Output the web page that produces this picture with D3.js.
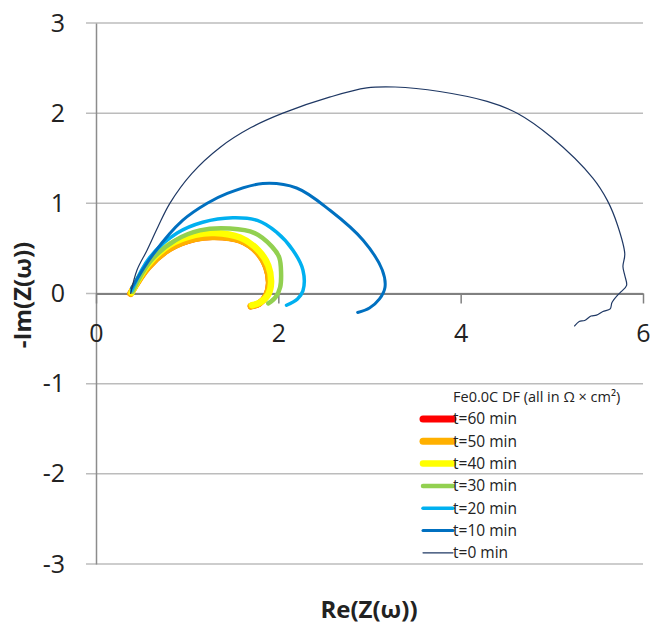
<!DOCTYPE html>
<html><head><meta charset="utf-8">
<script src="https://cdn.jsdelivr.net/npm/d3@7"></script>
<style>
body{margin:0;background:#fff}
svg{display:block}
text{font-family:"Open Sans",Lato,sans-serif;fill:#222}
</style>
</head><body>
<svg id="c" width="652" height="624"></svg>
<script>
// ---- data (Re, -Im) in Ω × cm² ----
const xTicks = [0, 2, 4, 6];
const yTicks = [-3, -2, -1, 0, 1, 2, 3];
const seriesLabels = ["t=60 min","t=50 min","t=40 min","t=30 min","t=20 min","t=10 min","t=0 min"];
const legendTitle = "Fe0.0C DF (all in Ω × cm²)";

const t60 = [[0.38,0.00],[0.57,0.29],[0.81,0.50],[1.09,0.61],[1.30,0.63],[1.58,0.59],[1.77,0.46],[1.87,0.29],[1.90,0.11],[1.87,-0.02],[1.79,-0.11],[1.70,-0.14]];
const t50 = [[0.38,0.00],[0.57,0.29],[0.81,0.50],[1.09,0.61],[1.30,0.63],[1.58,0.59],[1.77,0.46],[1.87,0.29],[1.90,0.11],[1.87,-0.02],[1.79,-0.11],[1.70,-0.14]];
const t40 = [[0.39,0.01],[0.57,0.32],[0.81,0.54],[1.09,0.65],[1.30,0.67],[1.58,0.62],[1.78,0.48],[1.89,0.31],[1.92,0.12],[1.89,-0.01],[1.80,-0.10],[1.71,-0.13]];
const t30 = [[0.40,0.02],[0.59,0.35],[0.87,0.59],[1.14,0.70],[1.47,0.72],[1.74,0.67],[1.93,0.52],[2.01,0.40],[2.03,0.23],[2.02,0.07],[1.97,-0.04],[1.89,-0.11]];
const t20 = [[0.39,0.03],[0.59,0.40],[0.89,0.67],[1.17,0.79],[1.50,0.84],[1.77,0.81],[1.98,0.68],[2.16,0.48],[2.27,0.26],[2.27,0.03],[2.21,-0.06],[2.09,-0.13]];
const t10 = [[0.39,0.06],[0.63,0.44],[0.95,0.81],[1.22,1.00],[1.44,1.11],[1.83,1.22],[2.20,1.17],[2.57,0.92],[2.93,0.59],[3.14,0.26],[3.17,0.07],[3.11,-0.06],[3.00,-0.16],[2.87,-0.21]];
const t0  = [[0.38,0.00],[0.45,0.26],[0.56,0.48],[0.68,0.74],[0.81,1.00],[1.05,1.33],[1.36,1.62],[1.70,1.84],[2.05,2.00],[2.57,2.18],[2.97,2.28],[3.28,2.29],[3.77,2.24],[4.29,2.13],[4.62,2.00],[5.00,1.73],[5.45,1.28],[5.61,1.03],[5.72,0.76],[5.80,0.44],[5.78,0.30],[5.80,0.20],[5.82,0.09],[5.76,0.02],[5.72,-0.02],[5.66,-0.10],[5.64,-0.17],[5.56,-0.20],[5.49,-0.24],[5.43,-0.25],[5.36,-0.30],[5.30,-0.31],[5.25,-0.36]];

const seriesData = [t60, t50, t40, t30, t20, t10, t0];

// ---- styles ----
const colors = ["#ff0000","#ffb000","#ffff00","#92d050","#00b0f0","#0070c0","#1f3864"];
const widths = [7, 7, 6.5, 4.5, 3.5, 3, 1.2];
const pathWidths = [6.5, 7, 6.5, 4.5, 3.5, 3, 1.2];

const svg = d3.select("#c");
const x = d3.scaleLinear().domain([0, 6]).range([96, 643]);
const y = d3.scaleLinear().domain([-3, 3]).range([564, 23]);
const fmt = d => String(d);

// gridlines
svg.append("g").selectAll("line").data(yTicks).join("line")
  .attr("x1", 86).attr("x2", x(6))
  .attr("y1", d => y(d)).attr("y2", d => y(d))
  .attr("stroke", "#bcbcbc").attr("stroke-width", 1.5);

// y axis
const ya = svg.append("g").attr("transform", `translate(${x(0)},0)`)
  .call(d3.axisLeft(y).tickValues(yTicks).tickSize(0).tickPadding(31).tickFormat(fmt));
ya.select(".domain").attr("stroke", "#8c8c8c").attr("stroke-width", 1.5);
ya.selectAll("text").attr("font-size", 25).style("font-family", "'Open Sans',sans-serif").attr("fill", "#222");

// x axis
const xa = svg.append("g").attr("transform", `translate(0,${y(0)})`)
  .call(d3.axisBottom(x).tickValues(xTicks).tickSize(10).tickSizeOuter(0).tickPadding(21).tickFormat(fmt));
xa.select(".domain").attr("stroke", "#808080").attr("stroke-width", 2);
xa.selectAll("line").attr("stroke", "#808080").attr("stroke-width", 1.5);
xa.selectAll("text").attr("font-size", 25).style("font-family", "'Open Sans',sans-serif").attr("fill", "#222");

// curves
const line = d3.line().x(d => x(d[0])).y(d => y(d[1])).curve(d3.curveCatmullRom.alpha(0.5));
seriesData.forEach((s, i) => {
  svg.append("path").datum(s)
    .attr("d", line)
    .attr("fill", "none").attr("stroke", colors[i])
    .attr("stroke-width", pathWidths[i])
    .attr("stroke-linecap", "round").attr("stroke-linejoin", "round");
});

// axis titles
svg.append("text").attr("x", 369).attr("y", 618).attr("text-anchor", "middle")
  .attr("font-size", 24).attr("font-weight", "bold").text("Re(Z(ω))");
svg.append("text").attr("transform", "translate(31,295) rotate(-90)").attr("text-anchor", "middle")
  .attr("font-size", 24).attr("font-weight", "bold").text("-Im(Z(ω))");

// legend
const lg = svg.append("g");
lg.append("text").attr("x", 453).attr("y", 397).attr("dy", "0.35em")
  .attr("font-size", 14.5).text(legendTitle);
seriesLabels.forEach((lab, i) => {
  const yy = 419 + i * 22.3;
  lg.append("line").attr("x1", 423).attr("x2", 453).attr("y1", yy).attr("y2", yy)
    .attr("stroke", colors[i]).attr("stroke-width", widths[i]).attr("stroke-linecap", "round");
  lg.append("text").attr("x", 453).attr("y", yy).attr("dy", "0.35em")
    .attr("font-size", 15.5).text(lab);
});
</script>
</body></html>
